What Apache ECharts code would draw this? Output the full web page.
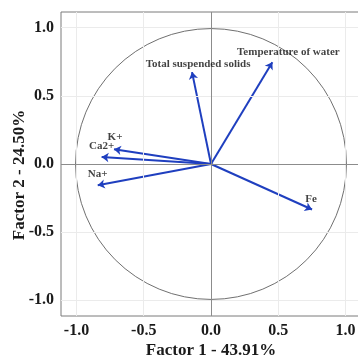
<!DOCTYPE html>
<html>
<head>
<meta charset="utf-8">
<script src="https://cdn.jsdelivr.net/npm/echarts@6/dist/echarts.min.js"></script>
<style>
  html, body { margin: 0; padding: 0; background: #fff; overflow: hidden; width: 358px; height: 361px; }
  #chart { width: 362px; height: 361px; }
</style>
</head>
<body>
<div id="chart"></div>
<script>
// loadings
const variables = ['Temperature of water', 'Total suspended solids', 'K+', 'Ca2+', 'Na+', 'Fe']
const factor1 = [0.456, -0.141, -0.721, -0.813, -0.842, 0.751]
const factor2 = [0.747, 0.674, 0.108, 0.051, -0.156, -0.334]
const tickValues = [-1, -0.5, 0, 0.5, 1]
const circleRadius = 1

// label placement relative to arrow tip (px)
const labelOffsets = [[16, -10], [6, -8], [1, -12], [0, -11], [0, -11], [-1, -10]]

const serif = 'Liberation Serif'
const arrowColor = '#1f3fbf'

const chart = echarts.init(document.getElementById('chart'))

const axisCommon = {
  type: 'value',
  min: -1.115,
  max: 1.115,
  nameLocation: 'middle',
  nameMoveOverlap: false,
  axisLine: { show: false },
  axisTick: {
    show: true,
    length: 3,
    customValues: tickValues,
    lineStyle: { color: '#555' }
  },
  axisLabel: {
    customValues: tickValues,
    formatter: (v) => v.toFixed(1),
    fontFamily: serif,
    fontWeight: 'bold',
    fontSize: 16,
    color: '#1a1a1a',
    margin: 7
  },
  splitLine: { show: false }
}

const nameStyle = { fontFamily: serif, fontWeight: 'bold', fontSize: 17, color: '#1a1a1a' }

const gridLines = tickValues.filter(v => v !== 0)

chart.setOption({
  animation: false,
  grid: {
    left: 61,
    top: 12,
    right: 1,
    bottom: 45,
    outerBoundsMode: 'none',
    containLabel: false,
    show: true,
    borderColor: '#7a7a7a',
    borderWidth: 1,
    backgroundColor: '#fff'
  },
  xAxis: Object.assign({}, axisCommon, {
    name: 'Factor 1 - 43.91%',
    nameGap: 26,
    nameTextStyle: nameStyle
  }),
  yAxis: Object.assign({}, axisCommon, {
    name: 'Factor 2 - 24.50%',
    nameGap: 33,
    // pushes the rotated title a little lower, as in the original
    nameTextStyle: Object.assign({}, nameStyle, { padding: [0, 22, 0, 0] })
  }),
  series: [
    {
      // light grid + zero lines
      type: 'line',
      data: [],
      silent: true,
      z: 1,
      markLine: {
        silent: true,
        symbol: ['none', 'none'],
        label: { show: false },
        animation: false,
        lineStyle: { color: '#ebebeb', width: 1, type: 'solid' },
        data: gridLines.map(v => ({ xAxis: v }))
          .concat(gridLines.map(v => ({ yAxis: v })))
          .concat([
            { xAxis: 0, lineStyle: { color: '#8c8c8c', width: 1 } },
            { yAxis: 0, lineStyle: { color: '#8c8c8c', width: 1 } }
          ])
      }
    },
    {
      // unit correlation circle
      type: 'custom',
      silent: true,
      z: 3,
      data: [[0, 0]],
      renderItem: (params, api) => {
        const c = api.coord([api.value(0), api.value(1)])
        const r = api.size([circleRadius, circleRadius])
        return {
          type: 'circle',
          shape: { cx: c[0], cy: c[1], r: (r[0] + r[1]) / 2 },
          style: { fill: 'none', stroke: '#707070', lineWidth: 1 }
        }
      }
    },
    {
      type: 'lines',
      coordinateSystem: 'cartesian2d',
      z: 4,
      symbol: ['none', 'arrow'],
      symbolSize: 7,
      lineStyle: { color: arrowColor, width: 2, opacity: 1 },
      data: variables.map((name, i) => ({
        name,
        coords: [[0, 0], [factor1[i], factor2[i]]]
      }))
    },
    {
      type: 'scatter',
      z: 5,
      symbolSize: 0,
      silent: true,
      data: variables.map((name, i) => ({
        name,
        value: [factor1[i], factor2[i]],
        label: { offset: labelOffsets[i] }
      })),
      label: {
        show: true,
        position: 'inside',
        formatter: (p) => p.name,
        fontFamily: serif,
        fontWeight: 'bold',
        fontSize: 11,
        color: '#111'
      }
    }
  ]
})
</script>
</body>
</html>
